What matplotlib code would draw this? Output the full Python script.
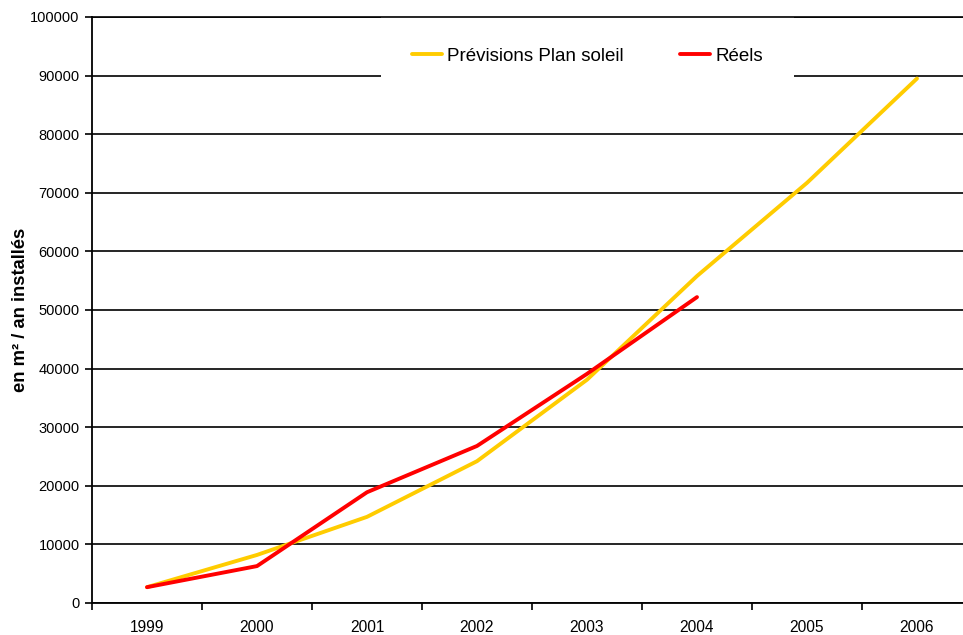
import numpy as np
import matplotlib
matplotlib.use("Agg")
import matplotlib.pyplot as plt

# data
years = ["1999", "2000", "2001", "2002", "2003", "2004", "2005", "2006"]
previsions = [2700, 8200, 14700, 24200, 38100, 55800, 71700, 89500]
reels = [2700, 6300, 18900, 26800, 39100, 52200]
y_ticks = list(range(0, 100001, 10000))

plt.rcParams['font.family'] = ['Liberation Sans', 'DejaVu Sans']

fig = plt.figure(figsize=(9.63, 6.35), dpi=100)
# plot area runs past the right edge of the picture, as in the reference
ax = fig.add_axes([92 / 963, 1 - 603 / 635, (972 - 92) / 963, (603 - 17) / 635])

x = np.arange(len(years))
ax.plot(x, previsions, color="#FFCC00", lw=2.8, label="Prévisions Plan soleil",
        solid_joinstyle="round", solid_capstyle="round")
ax.plot(x[:len(reels)], reels, color="#FF0000", lw=2.8, label="Réels",
        solid_joinstyle="round", solid_capstyle="round")

ax.set_xlim(-0.5, len(years) - 0.5)
ax.set_ylim(0, 100000)

# tick marks between categories, labels at the centres
ax.set_xticks(np.arange(len(years) + 1) - 0.5)
ax.set_xticklabels([])
ax.set_xticks(x, minor=True)
ax.set_xticklabels(years, minor=True, fontsize=11.2)
ax.tick_params(axis="x", which="major", direction="out", length=5, width=1.2, color="black")
ax.tick_params(axis="x", which="minor", length=0, pad=12)

ax.set_yticks(y_ticks)
ax.set_yticklabels([str(v) for v in y_ticks], fontsize=10.5)
ax.tick_params(axis="y", direction="out", length=5, width=1.2, pad=4)

ax.yaxis.grid(True, color="black", lw=1.2)
ax.set_axisbelow(True)

ax.spines["right"].set_visible(False)
ax.spines["left"].set_linewidth(1.3)
ax.spines["bottom"].set_linewidth(1.3)
ax.spines["top"].set_linewidth(1.2)
ax.spines["top"].set_zorder(6)

ax.set_ylabel("en m² / an installés", fontsize=13.2, fontweight="bold")
ax.yaxis.set_label_coords(29 / 963, 1 - 310 / 635, transform=fig.transFigure)

leg = ax.legend(ncol=2, loc="center", bbox_to_anchor=(587.5 / 963, 1 - 56 / 635),
                bbox_transform=fig.transFigure, frameon=True, fontsize=13.5,
                handlelength=1.6, handletextpad=0.27, columnspacing=3.0,
                borderpad=1.65, fancybox=False)
leg.get_frame().set_facecolor("white")
leg.get_frame().set_edgecolor("none")
leg.get_frame().set_alpha(1)

fig.savefig("out.png", dpi=100)
